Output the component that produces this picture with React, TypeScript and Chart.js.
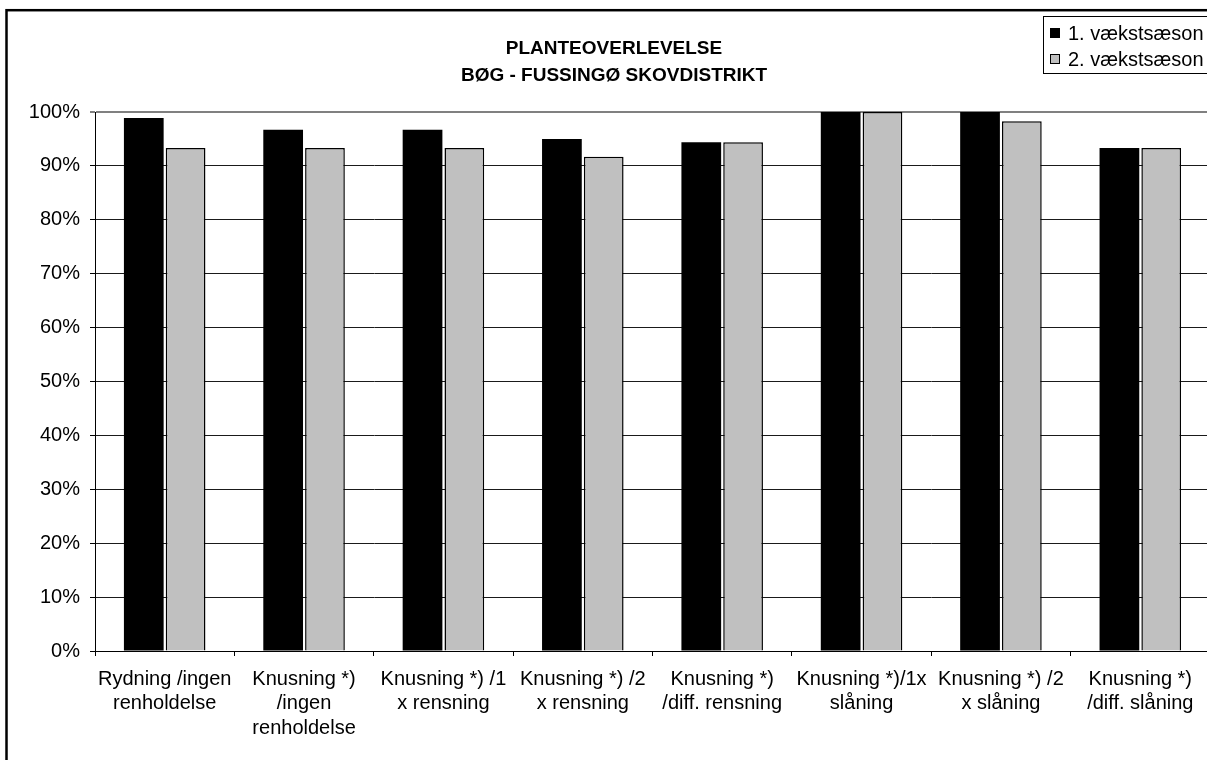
import React, { useEffect, useRef } from "react";
import { Chart, registerables } from "chart.js";

Chart.register(...registerables);

const categories: string[][] = [
  ["Rydning /ingen", "renholdelse"],
  ["Knusning *)", "/ingen", "renholdelse"],
  ["Knusning *) /1", "x rensning"],
  ["Knusning *) /2", "x rensning"],
  ["Knusning *)", "/diff. rensning"],
  ["Knusning *)/1x", "slåning"],
  ["Knusning *) /2", "x slåning"],
  ["Knusning *)", "/diff. slåning"],
];

const season1: number[] = [98.9, 96.7, 96.7, 95.0, 94.4, 100, 100, 93.3];
const season2: number[] = [93.3, 93.3, 93.3, 91.7, 94.4, 100, 98.3, 93.3];

const seriesNames: string[] = ["1. vækstsæson", "2. vækstsæson"];
const titleLines: string[] = ["PLANTEOVERLEVELSE", "BØG - FUSSINGØ SKOVDISTRIKT"];

const FONT = '"Liberation Sans", Arial, sans-serif';
const W = 1220;
const H = 760;

const decorPlugin = {
  id: "decor",
  afterDraw(chart: any) {
    const ctx = chart.ctx as CanvasRenderingContext2D;
    ctx.save();
    // outer border
    ctx.strokeStyle = "#000";
    ctx.lineWidth = 2.5;
    ctx.strokeRect(6.5, 10.2, W + 20, H + 20);
    // title
    ctx.fillStyle = "#000";
    ctx.font = `bold 19px ${FONT}`;
    ctx.textAlign = "center";
    ctx.textBaseline = "middle";
    ctx.fillText(titleLines[0], 614, 49);
    ctx.fillText(titleLines[1], 614, 75.5);
    // legend
    const lx = 1043.5;
    const ly = 16.5;
    ctx.fillStyle = "#fff";
    ctx.fillRect(lx, ly, 200, 57);
    ctx.strokeStyle = "#000";
    ctx.lineWidth = 1;
    ctx.strokeRect(lx, ly, 200, 57);
    const ds = chart.data.datasets;
    const rows = [33, 59];
    ctx.font = `20px ${FONT}`;
    ctx.textAlign = "left";
    ds.forEach((d: any, i: number) => {
      const cy = rows[i];
      ctx.fillStyle = d.backgroundColor;
      ctx.fillRect(1050, cy - 5, 9, 10);
      ctx.strokeStyle = "#000";
      ctx.lineWidth = 1;
      ctx.strokeRect(1050.5, cy - 4.5, 9, 9);
      ctx.fillStyle = "#000";
      ctx.fillText(d.label, 1068, cy + 1);
    });
    ctx.restore();
  },
};

export default function App() {
  const ref = useRef<HTMLCanvasElement | null>(null);

  useEffect(() => {
    document.body.style.overflow = "hidden";
    document.documentElement.style.overflow = "hidden";
    const canvas = ref.current;
    if (!canvas) return;
    const chart = new Chart(canvas, {
      type: "bar",
      data: {
        labels: categories,
        datasets: [
          {
            label: seriesNames[0],
            data: season1,
            backgroundColor: "#000000",
            borderColor: "#000000",
            borderWidth: 0,
            categoryPercentage: 0.6,
            barPercentage: 0.95,
          },
          {
            label: seriesNames[1],
            data: season2,
            backgroundColor: "#c0c0c0",
            borderColor: "#000000",
            borderWidth: 1.5,
            categoryPercentage: 0.6,
            barPercentage: 0.95,
          },
        ],
      },
      options: {
        responsive: false,
        animation: false,
        devicePixelRatio: 1,
        layout: { padding: { top: 112, left: 0, right: 10, bottom: 0 } },
        plugins: {
          legend: { display: false },
          title: { display: false },
          tooltip: { enabled: false },
        },
        scales: {
          x: {
            afterFit: (s: any) => {
              s.height = H - 651;
            },
            grid: {
              offset: true,
              drawOnChartArea: false,
              drawTicks: true,
              tickLength: 5,
              tickColor: "#000",
              tickWidth: 1,
            },
            border: { color: "#000", width: 1 },
            ticks: {
              color: "#000",
              padding: 11,
              maxRotation: 0,
              autoSkip: false,
              font: { family: FONT, size: 20, lineHeight: 1.23 },
            },
          },
          y: {
            min: 0,
            max: 100,
            afterFit: (s: any) => {
              s.width = 95;
            },
            grid: {
              color: (c: any) => (c.tick && c.tick.value === 100 ? "#808080" : "#1a1a1a"),
              lineWidth: (c: any) => (c.tick && c.tick.value === 100 ? 2 : 1),
              tickLength: 5,
              tickColor: "#000",
              tickWidth: 1,
            },
            border: { color: "#000", width: 1 },
            ticks: {
              stepSize: 10,
              color: "#000",
              padding: 10,
              font: { family: FONT, size: 20 },
              callback: (v: any) => v + "%",
            },
          },
        },
      },
      plugins: [decorPlugin],
    });
    return () => chart.destroy();
  }, []);

  return (
    <div style={{ position: "absolute", left: 0, top: 0, width: W, height: H, background: "#fff" }}>
      <canvas ref={ref} width={W} height={H} style={{ display: "block" }} />
    </div>
  );
}
